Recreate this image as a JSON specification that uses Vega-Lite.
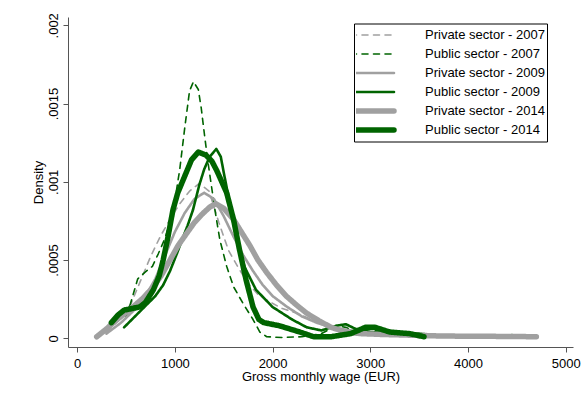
{
  "$schema": "https://vega.github.io/schema/vega-lite/v6.json",
  "width": 505,
  "height": 330,
  "autosize": {"type": "none"},
  "padding": {"left": 68, "top": 17, "right": 12, "bottom": 49},
  "background": "white",
  "config": {
    "view": {"stroke": null},
    "font": "Liberation Sans",
    "axis": {
      "labelFont": "Liberation Sans", "labelFontSize": 13, "labelColor": "#000",
      "titleFont": "Liberation Sans", "titleFontSize": 13, "titleFontWeight": "normal", "titleColor": "#000",
      "domainColor": "#555", "tickColor": "#555", "tickSize": 5, "grid": false
    }
  },
  "data": {"values": [
    {"series": "Private sector - 2007", "year": 2007, "wage": 300, "density": 0.00004},
    {"series": "Private sector - 2007", "year": 2007, "wage": 450, "density": 0.00013},
    {"series": "Private sector - 2007", "year": 2007, "wage": 550, "density": 0.00022},
    {"series": "Private sector - 2007", "year": 2007, "wage": 650, "density": 0.00037},
    {"series": "Private sector - 2007", "year": 2007, "wage": 750, "density": 0.00052},
    {"series": "Private sector - 2007", "year": 2007, "wage": 850, "density": 0.00065},
    {"series": "Private sector - 2007", "year": 2007, "wage": 950, "density": 0.00076},
    {"series": "Private sector - 2007", "year": 2007, "wage": 1050, "density": 0.00086},
    {"series": "Private sector - 2007", "year": 2007, "wage": 1150, "density": 0.00094},
    {"series": "Private sector - 2007", "year": 2007, "wage": 1250, "density": 0.00099},
    {"series": "Private sector - 2007", "year": 2007, "wage": 1350, "density": 0.00094},
    {"series": "Private sector - 2007", "year": 2007, "wage": 1450, "density": 0.00074},
    {"series": "Private sector - 2007", "year": 2007, "wage": 1550, "density": 0.00056},
    {"series": "Private sector - 2007", "year": 2007, "wage": 1650, "density": 0.00045},
    {"series": "Private sector - 2007", "year": 2007, "wage": 1750, "density": 0.00035},
    {"series": "Private sector - 2007", "year": 2007, "wage": 1850, "density": 0.00028},
    {"series": "Private sector - 2007", "year": 2007, "wage": 1950, "density": 0.00024},
    {"series": "Private sector - 2007", "year": 2007, "wage": 2100, "density": 0.00019},
    {"series": "Private sector - 2007", "year": 2007, "wage": 2250, "density": 0.00016},
    {"series": "Private sector - 2007", "year": 2007, "wage": 2400, "density": 0.00012},
    {"series": "Private sector - 2007", "year": 2007, "wage": 2550, "density": 0.00009},
    {"series": "Private sector - 2007", "year": 2007, "wage": 2700, "density": 0.00006},
    {"series": "Private sector - 2007", "year": 2007, "wage": 2900, "density": 0.00004},
    {"series": "Private sector - 2007", "year": 2007, "wage": 3100, "density": 0.00003},
    {"series": "Private sector - 2007", "year": 2007, "wage": 3400, "density": 0.00002},
    {"series": "Private sector - 2007", "year": 2007, "wage": 3800, "density": 0.00001},
    {"series": "Private sector - 2007", "year": 2007, "wage": 4200, "density": 0.000005},

    {"series": "Public sector - 2007", "year": 2007, "wage": 500, "density": 0.00014},
    {"series": "Public sector - 2007", "year": 2007, "wage": 540, "density": 0.00021},
    {"series": "Public sector - 2007", "year": 2007, "wage": 620, "density": 0.00038},
    {"series": "Public sector - 2007", "year": 2007, "wage": 690, "density": 0.00042},
    {"series": "Public sector - 2007", "year": 2007, "wage": 770, "density": 0.00046},
    {"series": "Public sector - 2007", "year": 2007, "wage": 830, "density": 0.00054},
    {"series": "Public sector - 2007", "year": 2007, "wage": 900, "density": 0.00064},
    {"series": "Public sector - 2007", "year": 2007, "wage": 950, "density": 0.00075},
    {"series": "Public sector - 2007", "year": 2007, "wage": 1000, "density": 0.00088},
    {"series": "Public sector - 2007", "year": 2007, "wage": 1050, "density": 0.00108},
    {"series": "Public sector - 2007", "year": 2007, "wage": 1100, "density": 0.00134},
    {"series": "Public sector - 2007", "year": 2007, "wage": 1150, "density": 0.00158},
    {"series": "Public sector - 2007", "year": 2007, "wage": 1190, "density": 0.00164},
    {"series": "Public sector - 2007", "year": 2007, "wage": 1240, "density": 0.00159},
    {"series": "Public sector - 2007", "year": 2007, "wage": 1270, "density": 0.00147},
    {"series": "Public sector - 2007", "year": 2007, "wage": 1305, "density": 0.00129},
    {"series": "Public sector - 2007", "year": 2007, "wage": 1340, "density": 0.00112},
    {"series": "Public sector - 2007", "year": 2007, "wage": 1375, "density": 0.00097},
    {"series": "Public sector - 2007", "year": 2007, "wage": 1410, "density": 0.00082},
    {"series": "Public sector - 2007", "year": 2007, "wage": 1460, "density": 0.00063},
    {"series": "Public sector - 2007", "year": 2007, "wage": 1530, "density": 0.00046},
    {"series": "Public sector - 2007", "year": 2007, "wage": 1600, "density": 0.00033},
    {"series": "Public sector - 2007", "year": 2007, "wage": 1700, "density": 0.00022},
    {"series": "Public sector - 2007", "year": 2007, "wage": 1800, "density": 0.00012},
    {"series": "Public sector - 2007", "year": 2007, "wage": 1870, "density": 0.00004},
    {"series": "Public sector - 2007", "year": 2007, "wage": 1940, "density": 0.00001},
    {"series": "Public sector - 2007", "year": 2007, "wage": 2100, "density": 0.000005},
    {"series": "Public sector - 2007", "year": 2007, "wage": 2300, "density": 0.00001},
    {"series": "Public sector - 2007", "year": 2007, "wage": 2500, "density": 0.00003},
    {"series": "Public sector - 2007", "year": 2007, "wage": 2650, "density": 0.00008},
    {"series": "Public sector - 2007", "year": 2007, "wage": 2750, "density": 0.00007},
    {"series": "Public sector - 2007", "year": 2007, "wage": 2900, "density": 0.00003},
    {"series": "Public sector - 2007", "year": 2007, "wage": 3050, "density": 0.00005},
    {"series": "Public sector - 2007", "year": 2007, "wage": 3200, "density": 0.00003},
    {"series": "Public sector - 2007", "year": 2007, "wage": 3400, "density": 0.00001},
    {"series": "Public sector - 2007", "year": 2007, "wage": 3600, "density": 0.000005},

    {"series": "Private sector - 2009", "year": 2009, "wage": 300, "density": 0.00003},
    {"series": "Private sector - 2009", "year": 2009, "wage": 450, "density": 0.0001},
    {"series": "Private sector - 2009", "year": 2009, "wage": 600, "density": 0.00019},
    {"series": "Private sector - 2009", "year": 2009, "wage": 700, "density": 0.00027},
    {"series": "Private sector - 2009", "year": 2009, "wage": 800, "density": 0.00038},
    {"series": "Private sector - 2009", "year": 2009, "wage": 900, "density": 0.00053},
    {"series": "Private sector - 2009", "year": 2009, "wage": 1000, "density": 0.00068},
    {"series": "Private sector - 2009", "year": 2009, "wage": 1100, "density": 0.0008},
    {"series": "Private sector - 2009", "year": 2009, "wage": 1200, "density": 0.00089},
    {"series": "Private sector - 2009", "year": 2009, "wage": 1300, "density": 0.00093},
    {"series": "Private sector - 2009", "year": 2009, "wage": 1400, "density": 0.00089},
    {"series": "Private sector - 2009", "year": 2009, "wage": 1500, "density": 0.00078},
    {"series": "Private sector - 2009", "year": 2009, "wage": 1600, "density": 0.00065},
    {"series": "Private sector - 2009", "year": 2009, "wage": 1700, "density": 0.00053},
    {"series": "Private sector - 2009", "year": 2009, "wage": 1800, "density": 0.00043},
    {"series": "Private sector - 2009", "year": 2009, "wage": 1900, "density": 0.00034},
    {"series": "Private sector - 2009", "year": 2009, "wage": 2000, "density": 0.00027},
    {"series": "Private sector - 2009", "year": 2009, "wage": 2150, "density": 0.0002},
    {"series": "Private sector - 2009", "year": 2009, "wage": 2300, "density": 0.00014},
    {"series": "Private sector - 2009", "year": 2009, "wage": 2450, "density": 0.0001},
    {"series": "Private sector - 2009", "year": 2009, "wage": 2600, "density": 0.00007},
    {"series": "Private sector - 2009", "year": 2009, "wage": 2800, "density": 0.00005},
    {"series": "Private sector - 2009", "year": 2009, "wage": 3000, "density": 0.00004},
    {"series": "Private sector - 2009", "year": 2009, "wage": 3300, "density": 0.00003},
    {"series": "Private sector - 2009", "year": 2009, "wage": 3600, "density": 0.00002},
    {"series": "Private sector - 2009", "year": 2009, "wage": 4000, "density": 0.00001},
    {"series": "Private sector - 2009", "year": 2009, "wage": 4400, "density": 0.000005},

    {"series": "Public sector - 2009", "year": 2009, "wage": 480, "density": 0.00007},
    {"series": "Public sector - 2009", "year": 2009, "wage": 560, "density": 0.00012},
    {"series": "Public sector - 2009", "year": 2009, "wage": 640, "density": 0.00017},
    {"series": "Public sector - 2009", "year": 2009, "wage": 720, "density": 0.00022},
    {"series": "Public sector - 2009", "year": 2009, "wage": 800, "density": 0.00027},
    {"series": "Public sector - 2009", "year": 2009, "wage": 880, "density": 0.00034},
    {"series": "Public sector - 2009", "year": 2009, "wage": 950, "density": 0.00043},
    {"series": "Public sector - 2009", "year": 2009, "wage": 1020, "density": 0.00054},
    {"series": "Public sector - 2009", "year": 2009, "wage": 1080, "density": 0.00064},
    {"series": "Public sector - 2009", "year": 2009, "wage": 1130, "density": 0.00072},
    {"series": "Public sector - 2009", "year": 2009, "wage": 1185, "density": 0.00082},
    {"series": "Public sector - 2009", "year": 2009, "wage": 1250, "density": 0.00098},
    {"series": "Public sector - 2009", "year": 2009, "wage": 1300, "density": 0.00108},
    {"series": "Public sector - 2009", "year": 2009, "wage": 1356, "density": 0.00116},
    {"series": "Public sector - 2009", "year": 2009, "wage": 1424, "density": 0.00121},
    {"series": "Public sector - 2009", "year": 2009, "wage": 1470, "density": 0.00116},
    {"series": "Public sector - 2009", "year": 2009, "wage": 1500, "density": 0.00106},
    {"series": "Public sector - 2009", "year": 2009, "wage": 1560, "density": 0.00087},
    {"series": "Public sector - 2009", "year": 2009, "wage": 1630, "density": 0.00065},
    {"series": "Public sector - 2009", "year": 2009, "wage": 1710, "density": 0.00046},
    {"series": "Public sector - 2009", "year": 2009, "wage": 1830, "density": 0.00031},
    {"series": "Public sector - 2009", "year": 2009, "wage": 2000, "density": 0.0002},
    {"series": "Public sector - 2009", "year": 2009, "wage": 2200, "density": 0.00012},
    {"series": "Public sector - 2009", "year": 2009, "wage": 2350, "density": 0.00007},
    {"series": "Public sector - 2009", "year": 2009, "wage": 2500, "density": 0.00005},
    {"series": "Public sector - 2009", "year": 2009, "wage": 2650, "density": 0.00008},
    {"series": "Public sector - 2009", "year": 2009, "wage": 2750, "density": 0.00009},
    {"series": "Public sector - 2009", "year": 2009, "wage": 2850, "density": 0.00006},
    {"series": "Public sector - 2009", "year": 2009, "wage": 3000, "density": 0.00004},
    {"series": "Public sector - 2009", "year": 2009, "wage": 3200, "density": 0.00004},
    {"series": "Public sector - 2009", "year": 2009, "wage": 3500, "density": 0.00003},
    {"series": "Public sector - 2009", "year": 2009, "wage": 3800, "density": 0.00001},
    {"series": "Public sector - 2009", "year": 2009, "wage": 4200, "density": 0.00001},
    {"series": "Public sector - 2009", "year": 2009, "wage": 4450, "density": 0.00002},

    {"series": "Private sector - 2014", "year": 2014, "wage": 200, "density": 0.00001},
    {"series": "Private sector - 2014", "year": 2014, "wage": 300, "density": 0.00006},
    {"series": "Private sector - 2014", "year": 2014, "wage": 370, "density": 0.0001},
    {"series": "Private sector - 2014", "year": 2014, "wage": 470, "density": 0.00015},
    {"series": "Private sector - 2014", "year": 2014, "wage": 570, "density": 0.0002},
    {"series": "Private sector - 2014", "year": 2014, "wage": 680, "density": 0.00026},
    {"series": "Private sector - 2014", "year": 2014, "wage": 780, "density": 0.00033},
    {"series": "Private sector - 2014", "year": 2014, "wage": 860, "density": 0.0004},
    {"series": "Private sector - 2014", "year": 2014, "wage": 950, "density": 0.0005},
    {"series": "Private sector - 2014", "year": 2014, "wage": 1030, "density": 0.00059},
    {"series": "Private sector - 2014", "year": 2014, "wage": 1120, "density": 0.00067},
    {"series": "Private sector - 2014", "year": 2014, "wage": 1200, "density": 0.00074},
    {"series": "Private sector - 2014", "year": 2014, "wage": 1290, "density": 0.0008},
    {"series": "Private sector - 2014", "year": 2014, "wage": 1360, "density": 0.00084},
    {"series": "Private sector - 2014", "year": 2014, "wage": 1420, "density": 0.00086},
    {"series": "Private sector - 2014", "year": 2014, "wage": 1500, "density": 0.00083},
    {"series": "Private sector - 2014", "year": 2014, "wage": 1600, "density": 0.00076},
    {"series": "Private sector - 2014", "year": 2014, "wage": 1680, "density": 0.00068},
    {"series": "Private sector - 2014", "year": 2014, "wage": 1770, "density": 0.00059},
    {"series": "Private sector - 2014", "year": 2014, "wage": 1850, "density": 0.0005},
    {"series": "Private sector - 2014", "year": 2014, "wage": 1940, "density": 0.00042},
    {"series": "Private sector - 2014", "year": 2014, "wage": 2040, "density": 0.00034},
    {"series": "Private sector - 2014", "year": 2014, "wage": 2140, "density": 0.00027},
    {"series": "Private sector - 2014", "year": 2014, "wage": 2250, "density": 0.00021},
    {"series": "Private sector - 2014", "year": 2014, "wage": 2350, "density": 0.00016},
    {"series": "Private sector - 2014", "year": 2014, "wage": 2480, "density": 0.00011},
    {"series": "Private sector - 2014", "year": 2014, "wage": 2600, "density": 0.00007},
    {"series": "Private sector - 2014", "year": 2014, "wage": 2750, "density": 0.00004},
    {"series": "Private sector - 2014", "year": 2014, "wage": 2900, "density": 0.00003},
    {"series": "Private sector - 2014", "year": 2014, "wage": 3100, "density": 0.000025},
    {"series": "Private sector - 2014", "year": 2014, "wage": 3400, "density": 0.00002},
    {"series": "Private sector - 2014", "year": 2014, "wage": 3700, "density": 0.000015},
    {"series": "Private sector - 2014", "year": 2014, "wage": 4000, "density": 0.000013},
    {"series": "Private sector - 2014", "year": 2014, "wage": 4400, "density": 0.000012},
    {"series": "Private sector - 2014", "year": 2014, "wage": 4700, "density": 0.00001},

    {"series": "Public sector - 2014", "year": 2014, "wage": 350, "density": 0.0001},
    {"series": "Public sector - 2014", "year": 2014, "wage": 420, "density": 0.00015},
    {"series": "Public sector - 2014", "year": 2014, "wage": 480, "density": 0.00018},
    {"series": "Public sector - 2014", "year": 2014, "wage": 560, "density": 0.00019},
    {"series": "Public sector - 2014", "year": 2014, "wage": 640, "density": 0.0002},
    {"series": "Public sector - 2014", "year": 2014, "wage": 700, "density": 0.00023},
    {"series": "Public sector - 2014", "year": 2014, "wage": 780, "density": 0.00031},
    {"series": "Public sector - 2014", "year": 2014, "wage": 840, "density": 0.0004},
    {"series": "Public sector - 2014", "year": 2014, "wage": 880, "density": 0.0005},
    {"series": "Public sector - 2014", "year": 2014, "wage": 930, "density": 0.00065},
    {"series": "Public sector - 2014", "year": 2014, "wage": 980, "density": 0.00082},
    {"series": "Public sector - 2014", "year": 2014, "wage": 1030, "density": 0.00093},
    {"series": "Public sector - 2014", "year": 2014, "wage": 1090, "density": 0.00102},
    {"series": "Public sector - 2014", "year": 2014, "wage": 1170, "density": 0.00114},
    {"series": "Public sector - 2014", "year": 2014, "wage": 1240, "density": 0.00119},
    {"series": "Public sector - 2014", "year": 2014, "wage": 1320, "density": 0.00117},
    {"series": "Public sector - 2014", "year": 2014, "wage": 1380, "density": 0.00113},
    {"series": "Public sector - 2014", "year": 2014, "wage": 1430, "density": 0.00107},
    {"series": "Public sector - 2014", "year": 2014, "wage": 1530, "density": 0.00093},
    {"series": "Public sector - 2014", "year": 2014, "wage": 1600, "density": 0.00076},
    {"series": "Public sector - 2014", "year": 2014, "wage": 1660, "density": 0.00057},
    {"series": "Public sector - 2014", "year": 2014, "wage": 1730, "density": 0.00037},
    {"series": "Public sector - 2014", "year": 2014, "wage": 1800, "density": 0.0002},
    {"series": "Public sector - 2014", "year": 2014, "wage": 1860, "density": 0.00012},
    {"series": "Public sector - 2014", "year": 2014, "wage": 1910, "density": 0.0001},
    {"series": "Public sector - 2014", "year": 2014, "wage": 2070, "density": 0.00008},
    {"series": "Public sector - 2014", "year": 2014, "wage": 2280, "density": 0.00004},
    {"series": "Public sector - 2014", "year": 2014, "wage": 2420, "density": 0.00001},
    {"series": "Public sector - 2014", "year": 2014, "wage": 2600, "density": 0.00001},
    {"series": "Public sector - 2014", "year": 2014, "wage": 2800, "density": 0.00003},
    {"series": "Public sector - 2014", "year": 2014, "wage": 2950, "density": 0.00007},
    {"series": "Public sector - 2014", "year": 2014, "wage": 3050, "density": 0.00007},
    {"series": "Public sector - 2014", "year": 2014, "wage": 3200, "density": 0.00004},
    {"series": "Public sector - 2014", "year": 2014, "wage": 3400, "density": 0.00003},
    {"series": "Public sector - 2014", "year": 2014, "wage": 3550, "density": 0.00001}
  ]},
  "encoding": {
    "x": {
      "field": "wage", "type": "quantitative",
      "scale": {"domain": [-94, 5075], "nice": false, "zero": false},
      "axis": {
        "values": [0, 1000, 2000, 3000, 4000, 5000], "format": "d",
        "title": "Gross monthly wage (EUR)", "labelPadding": 5.5, "titlePadding": 0
      }
    },
    "y": {
      "field": "density", "type": "quantitative",
      "scale": {"domain": [-0.0000556, 0.002053], "nice": false, "zero": false},
      "axis": {
        "values": [0, 0.0005, 0.001, 0.0015, 0.002],
        "labelExpr": "datum.value == 0 ? '0' : replace(format(datum.value, '~g'), '0.', '.')",
        "labelAngle": 270, "labelAlign": "center", "labelBaseline": "alphabetic",
        "labelPadding": 6, "title": "Density", "titlePadding": 2
      }
    },
    "color": {
      "field": "series", "type": "nominal",
      "scale": {
        "domain": ["Private sector - 2007", "Public sector - 2007", "Private sector - 2009", "Public sector - 2009", "Private sector - 2014", "Public sector - 2014"],
        "range": ["#a0a0a0", "#006400", "#a0a0a0", "#006400", "#a0a0a0", "#006400"]
      },
      "legend": {
        "orient": "none", "legendX": 286, "legendY": 6.5, "title": null,
        "symbolType": "stroke", "symbolSize": 3025, "clipHeight": 19, "rowPadding": 0,
        "padding": 2, "labelOffset": 52, "symbolOffset": 4,
        "labelFont": "Liberation Sans", "labelFontSize": 13, "labelColor": "#000",
        "strokeColor": "#000", "fillColor": "#fff",
        "labelExpr": "datum.label + '      '",
        "encode": {
          "symbols": {
            "update": {
              "strokeWidth": {"signal": "datum.index >= 4 ? 5.5 : (datum.index >= 2 ? 2.6 : 1.6)"},
              "strokeCap": {"value": "round"}
            }
          }
        }
      }
    },
    "strokeDash": {
      "field": "series", "type": "nominal",
      "scale": {
        "domain": ["Private sector - 2007", "Public sector - 2007", "Private sector - 2009", "Public sector - 2009", "Private sector - 2014", "Public sector - 2014"],
        "range": [[6, 5.5], [6, 5.5], [1, 0], [1, 0], [1, 0], [1, 0]]
      }
    }
  },
  "layer": [
    {
      "transform": [{"filter": "datum.year == 2007"}],
      "mark": {"type": "line", "strokeWidth": 1.6, "strokeCap": "round", "strokeJoin": "round"}
    },
    {
      "transform": [{"filter": "datum.year == 2009"}],
      "mark": {"type": "line", "strokeWidth": 2.6, "strokeCap": "round", "strokeJoin": "round"}
    },
    {
      "transform": [{"filter": "datum.year == 2014"}],
      "mark": {"type": "line", "strokeWidth": 5.5, "strokeCap": "round", "strokeJoin": "round"}
    }
  ]
}
